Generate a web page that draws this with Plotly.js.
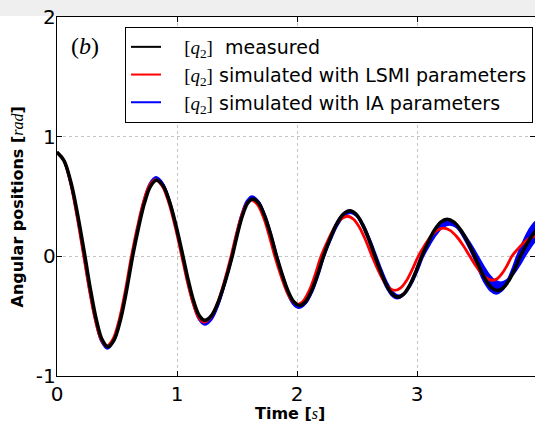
<!DOCTYPE html>
<html>
<head>
<meta charset="utf-8">
<script src="https://cdn.plot.ly/plotly-3.0.1.min.js"></script>
<style>html,body{margin:0;padding:0;background:#fff;}#chart{width:535px;height:422px;}</style>
</head>
<body>
<div id="chart"></div>
<script>
// measured q2
const tMeas = [0, 0.058, 0.117, 0.175, 0.233, 0.281, 0.329, 0.377, 0.425, 0.476, 0.528, 0.579, 0.63, 0.68, 0.73, 0.78, 0.83, 0.885, 0.94, 0.995, 1.05, 1.095, 1.14, 1.185, 1.23, 1.288, 1.345, 1.403, 1.46, 1.503, 1.545, 1.588, 1.63, 1.68, 1.73, 1.78, 1.83, 1.878, 1.925, 1.973, 2.02, 2.07, 2.12, 2.17, 2.22, 2.275, 2.33, 2.385, 2.44, 2.493, 2.545, 2.598, 2.65, 2.698, 2.745, 2.793, 2.84, 2.89, 2.94, 2.99, 3.04, 3.093, 3.145, 3.198, 3.25, 3.308, 3.365, 3.423, 3.48, 3.528, 3.575, 3.623, 3.67, 3.718, 3.765, 3.813, 3.86, 3.913, 3.965, 4.018, 4.07];
const yMeas = [0.87, 0.80, 0.615, 0.333, 0, -0.289, -0.534, -0.698, -0.755, -0.698, -0.534, -0.289, 0, 0.243, 0.449, 0.587, 0.635, 0.587, 0.449, 0.243, 0, -0.205, -0.378, -0.494, -0.535, -0.494, -0.378, -0.205, 0, 0.184, 0.339, 0.444, 0.48, 0.444, 0.339, 0.184, 0, -0.157, -0.29, -0.379, -0.41, -0.379, -0.29, -0.157, 0, 0.145, 0.269, 0.351, 0.38, 0.351, 0.269, 0.145, 0, -0.13, -0.24, -0.314, -0.34, -0.314, -0.24, -0.13, 0, 0.119, 0.219, 0.286, 0.31, 0.286, 0.219, 0.119, 0, -0.109, -0.202, -0.263, -0.285, -0.263, -0.202, -0.109, 0, 0.1, 0.184, 0.24, 0.26];

// simulated with LSMI parameters
const tLsmi = [0, 0.056, 0.112, 0.167, 0.223, 0.271, 0.319, 0.367, 0.415, 0.466, 0.518, 0.569, 0.62, 0.67, 0.72, 0.77, 0.82, 0.875, 0.93, 0.985, 1.04, 1.086, 1.133, 1.179, 1.225, 1.281, 1.338, 1.394, 1.45, 1.493, 1.535, 1.578, 1.62, 1.669, 1.718, 1.766, 1.815, 1.863, 1.91, 1.958, 2.005, 2.054, 2.103, 2.151, 2.2, 2.255, 2.31, 2.365, 2.42, 2.471, 2.523, 2.574, 2.625, 2.673, 2.72, 2.768, 2.815, 2.864, 2.913, 2.961, 3.01, 3.063, 3.115, 3.168, 3.22, 3.275, 3.33, 3.385, 3.44, 3.488, 3.535, 3.583, 3.63, 3.67, 3.71, 3.75, 3.79, 3.843, 3.895, 3.948, 4.0];
const yLsmi = [0.87, 0.804, 0.615, 0.333, 0, -0.287, -0.53, -0.693, -0.75, -0.693, -0.53, -0.287, 0, 0.245, 0.453, 0.591, 0.64, 0.591, 0.453, 0.245, 0, -0.211, -0.389, -0.508, -0.55, -0.508, -0.389, -0.211, 0, 0.18, 0.332, 0.434, 0.47, 0.434, 0.332, 0.18, 0, -0.153, -0.283, -0.37, -0.40, -0.37, -0.283, -0.153, 0, 0.128, 0.237, 0.31, 0.335, 0.31, 0.237, 0.128, 0, -0.109, -0.202, -0.263, -0.285, -0.263, -0.202, -0.109, 0, 0.09, 0.166, 0.217, 0.235, 0.217, 0.166, 0.09, 0, -0.077, -0.141, -0.185, -0.2, -0.185, -0.141, -0.077, 0, 0.065, 0.12, 0.157, 0.17];

// simulated with IA parameters (the blue band: its two envelopes)
const tIaA = [0, 0.056, 0.113, 0.169, 0.225, 0.274, 0.323, 0.371, 0.42, 0.471, 0.523, 0.574, 0.625, 0.675, 0.725, 0.775, 0.825, 0.88, 0.935, 0.99, 1.045, 1.091, 1.138, 1.184, 1.23, 1.286, 1.343, 1.399, 1.455, 1.498, 1.54, 1.583, 1.625, 1.675, 1.725, 1.775, 1.825, 1.873, 1.92, 1.968, 2.015, 2.065, 2.115, 2.165, 2.215, 2.27, 2.325, 2.38, 2.435, 2.488, 2.54, 2.593, 2.645, 2.693, 2.74, 2.788, 2.835, 2.885, 2.935, 2.985, 3.035, 3.088, 3.14, 3.193, 3.245, 3.301, 3.358, 3.414, 3.47, 3.518, 3.565, 3.613, 3.66, 3.704, 3.748, 3.791, 3.835, 3.885, 3.935, 3.985, 4.035];
const yIaA = [0.87, 0.804, 0.615, 0.333, 0, -0.295, -0.544, -0.711, -0.77, -0.711, -0.544, -0.295, 0, 0.253, 0.467, 0.61, 0.66, 0.61, 0.467, 0.253, 0, -0.218, -0.403, -0.527, -0.57, -0.527, -0.403, -0.218, 0, 0.192, 0.354, 0.462, 0.50, 0.462, 0.354, 0.192, 0, -0.165, -0.304, -0.397, -0.43, -0.397, -0.304, -0.165, 0, 0.145, 0.269, 0.351, 0.38, 0.351, 0.269, 0.145, 0, -0.134, -0.247, -0.323, -0.35, -0.323, -0.247, -0.134, 0, 0.115, 0.212, 0.277, 0.30, 0.277, 0.212, 0.115, 0, -0.119, -0.219, -0.286, -0.31, -0.286, -0.219, -0.119, 0, 0.119, 0.219, 0.286, 0.31];
const tIaB = [0, 0.057, 0.114, 0.171, 0.228, 0.277, 0.326, 0.374, 0.423, 0.474, 0.526, 0.577, 0.628, 0.678, 0.728, 0.778, 0.828, 0.883, 0.938, 0.993, 1.048, 1.094, 1.141, 1.187, 1.233, 1.29, 1.347, 1.403, 1.46, 1.503, 1.545, 1.588, 1.63, 1.681, 1.731, 1.782, 1.832, 1.88, 1.929, 1.977, 2.025, 2.075, 2.125, 2.175, 2.225, 2.28, 2.335, 2.39, 2.445, 2.499, 2.553, 2.606, 2.66, 2.708, 2.755, 2.803, 2.85, 2.9, 2.95, 3.0, 3.05, 3.105, 3.16, 3.215, 3.27, 3.329, 3.388, 3.446, 3.505, 3.553, 3.6, 3.648, 3.695, 3.745, 3.795, 3.845, 3.895, 3.946, 3.998, 4.049, 4.1];
const yIaB = [0.87, 0.804, 0.615, 0.333, 0, -0.289, -0.534, -0.698, -0.755, -0.698, -0.534, -0.289, 0, 0.249, 0.46, 0.601, 0.65, 0.601, 0.46, 0.249, 0, -0.212, -0.392, -0.513, -0.555, -0.513, -0.392, -0.212, 0, 0.188, 0.346, 0.453, 0.49, 0.453, 0.346, 0.188, 0, -0.161, -0.297, -0.388, -0.42, -0.388, -0.297, -0.161, 0, 0.14, 0.258, 0.337, 0.365, 0.337, 0.258, 0.14, 0, -0.126, -0.233, -0.305, -0.33, -0.305, -0.233, -0.126, 0, 0.101, 0.187, 0.245, 0.265, 0.245, 0.187, 0.101, 0, -0.084, -0.156, -0.203, -0.22, -0.203, -0.156, -0.084, 0, 0.08, 0.148, 0.194, 0.21];

const xTicks = [0, 1, 2, 3];
const xTickText = ['0', '1', '2', '3'];
const yTicks = [-1, 0, 1, 2];
const yTickText = ['-1', '0', '1', '2'];

const NB = '\u00a0';
const q2 = NB + NB + NB + '<span style="font-family:\'Liberation Serif\',serif">[<i>q</i><sub>2</sub>]</span>';
const names = [q2 + NB + NB + 'measured', q2 + ' simulated with LSMI parameters', q2 + ' simulated with IA parameters'];
const colors = ['#000000', '#ff0000', '#0000ff'];

const spl = {shape: 'spline', smoothing: 1};
const traces = [
  {x: tIaA, y: yIaA, type: 'scatter', mode: 'lines', line: Object.assign({color: '#0000ff', width: 2.5}, spl), showlegend: false, hoverinfo: 'skip'},
  {x: tIaB, y: yIaB, type: 'scatter', mode: 'lines', line: Object.assign({color: '#0000ff', width: 2.5}, spl),
   fill: 'tonexty', fillcolor: '#0000ff', showlegend: false, hoverinfo: 'skip'},
  {x: tLsmi, y: yLsmi, type: 'scatter', mode: 'lines', line: Object.assign({color: '#ff0000', width: 2.8}, spl), showlegend: false, hoverinfo: 'skip'},
  {x: tMeas, y: yMeas, type: 'scatter', mode: 'lines', line: Object.assign({color: '#000000', width: 3.5}, spl), showlegend: false, hoverinfo: 'skip'}
];
// legend entries
for (let i = 0; i < 3; i++) {
  traces.push({x: [null], y: [null], type: 'scatter', mode: 'lines', line: {color: colors[i], width: 2}, name: names[i], showlegend: true, hoverinfo: 'skip'});
}

const W = 478, H = 359;
const layout = {
  width: 535, height: 422,
  margin: {l: 57, r: 0, t: 17, b: 46, pad: 0},
  paper_bgcolor: '#ffffff', plot_bgcolor: '#ffffff',
  font: {family: 'DejaVu Sans', size: 20, color: '#000'},
  showlegend: true,
  legend: {
    x: (125 - 57) / W, y: 1 - (27 - 17) / H, xanchor: 'left', yanchor: 'top',
    bgcolor: '#ffffff', bordercolor: '#000000', borderwidth: 1,
    font: {family: 'DejaVu Sans', size: 19, color: '#000'},
    traceorder: 'normal', itemwidth: 30
  },
  xaxis: {
    range: [0, 3.983], tickvals: xTicks, ticktext: xTickText,
    showgrid: true, gridcolor: '#c4c4c4', griddash: 'dot', gridwidth: 1,
    zeroline: false, showline: true, linecolor: '#000', linewidth: 1.3, mirror: 'ticks',
    ticks: 'inside', ticklen: 5, tickcolor: '#000', tickwidth: 1,
    tickfont: {family: 'DejaVu Sans', size: 20, color: '#000'}, fixedrange: true
  },
  yaxis: {
    range: [-1, 2], tickvals: yTicks, ticktext: yTickText,
    showgrid: true, gridcolor: '#c4c4c4', griddash: 'dot', gridwidth: 1,
    zeroline: false, showline: true, linecolor: '#000', linewidth: 1.3, mirror: 'ticks',
    ticks: 'inside', ticklen: 5, tickcolor: '#000', tickwidth: 1, ticklabelstandoff: -4,
    tickfont: {family: 'DejaVu Sans', size: 20, color: '#000'}, fixedrange: true
  },
  shapes: [
    {type: 'rect', xref: 'paper', yref: 'paper', x0: -0.2, x1: 1.2, y0: 1 + 1 / H, y1: 1 + 20 / H,
     fillcolor: '#efefef', line: {width: 0}, layer: 'below'}
  ],
  annotations: [
    {xref: 'paper', yref: 'paper', x: (85 - 57) / W, y: 1 - (46 - 17) / H, xanchor: 'center', yanchor: 'middle',
     showarrow: false, text: '(<i>b</i>)', font: {family: 'Liberation Serif', size: 24, color: '#000'}},
    {xref: 'paper', yref: 'paper', x: (17 - 57) / W, y: 0.5 - 11 / H, xanchor: 'center', yanchor: 'middle', textangle: -90,
     showarrow: false, text: '<b>Angular positions [</b><span style="font-family:\'Liberation Serif\',serif"><i>rad</i></span><b>]</b>',
     font: {family: 'DejaVu Sans', size: 16, color: '#000'}},
    {xref: 'paper', yref: 'paper', x: (290 - 57) / W, y: -(413 - 376) / H, xanchor: 'center', yanchor: 'middle',
     showarrow: false, text: '<b>Time [</b><span style="font-family:\'Liberation Serif\',serif"><i>s</i></span><b>]</b>',
     font: {family: 'DejaVu Sans', size: 16, color: '#000'}},
    {xref: 'paper', yref: 'paper', x: (222 - 57) / W, y: 1 + 16 / H, xanchor: 'center', yanchor: 'bottom',
     showarrow: false, text: '<b>y</b>', font: {family: 'DejaVu Sans', size: 26, color: '#e00000'}},
    {xref: 'paper', yref: 'paper', x: (410 - 57) / W, y: 1 + 16 / H, xanchor: 'center', yanchor: 'bottom',
     showarrow: false, text: '<b>y</b>', font: {family: 'DejaVu Sans', size: 26, color: '#e00000'}}
  ]
};

Plotly.newPlot('chart', traces, layout, {displayModeBar: false, staticPlot: true});
</script>
</body>
</html>
